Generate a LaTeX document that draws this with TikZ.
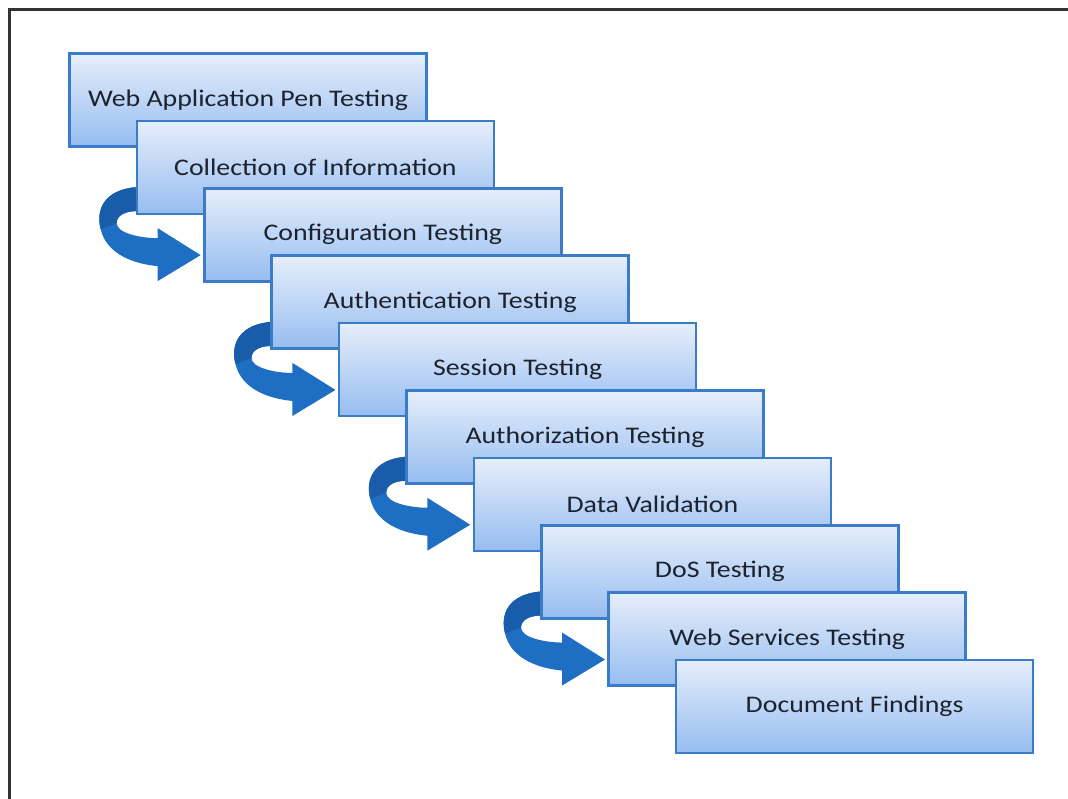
\documentclass[tikz,border=0pt]{standalone}
\usepackage{fontspec}
\setmainfont[FakeStretch=1.17]{Carlito}
\usepackage{xcolor}
\usepackage{tikz}
\usetikzlibrary{backgrounds}
\definecolor{stepedge}{RGB}{58,124,200}
\definecolor{steptop}{RGB}{230,238,251}
\definecolor{stepbot}{RGB}{150,189,240}
\definecolor{turncol}{RGB}{30,110,196}
\definecolor{turndark}{RGB}{24,92,170}
\definecolor{steptext}{RGB}{28,34,46}
\definecolor{framecol}{RGB}{52,52,52}
\tikzset{
  stepbox/.style={rectangle,draw=stepedge,line width=2.5pt,top color=steptop,bottom color=stepbot,
    minimum width=357pt,minimum height=93pt,inner sep=0pt,text=steptext,font=\fontsize{23.8}{28}\selectfont},
  turn arrow/.style={fill=turncol,draw=none},
  turn back/.style={fill=turndark,draw=none}
}
\begin{document}
\begin{tikzpicture}[x=1pt,y=1pt]
  \useasboundingbox (0,0) rectangle (1068,799);
  \draw[framecol,line width=3pt] (9,0) -- (9,789) -- (1068,789);
  \foreach \i/\txt in {0/Web Application Pen Testing, 1/Collection of Information, 2/Configuration Testing,
    3/Authentication Testing, 4/Session Testing, 5/Authorization Testing, 6/Data Validation,
    7/DoS Testing, 8/Web Services Testing, 9/Document Findings}{
    \node[stepbox] (s\i) at ({248+67.4*\i},{699-67.4*\i}) {\txt};}
  % turning arrows behind the boxes
  \begin{scope}[on background layer]
  \foreach \j in {1,3,5,7}{
    \fill[turn arrow,shift={(s\j.south west)}] (0,28) .. controls (-32,25) and (-40,5) .. (-35,-14)
      .. controls (-29,-40) and (0,-49) .. (22,-51) -- (22,-66) -- (65,-40) -- (22,-13) -- (22,-23)
      .. controls (5,-23) and (-19,-18) .. (-19,-8) .. controls (-19,0) and (-10,4) .. (1,4) -- cycle;
    \fill[turn back,shift={(s\j.south west)}] (0,28) .. controls (-32,25) and (-40,5) .. (-35,-14)
      -- (-19,-8) .. controls (-19,0) and (-10,4) .. (1,4) -- cycle;}
  \end{scope}
\end{tikzpicture}
\end{document}
